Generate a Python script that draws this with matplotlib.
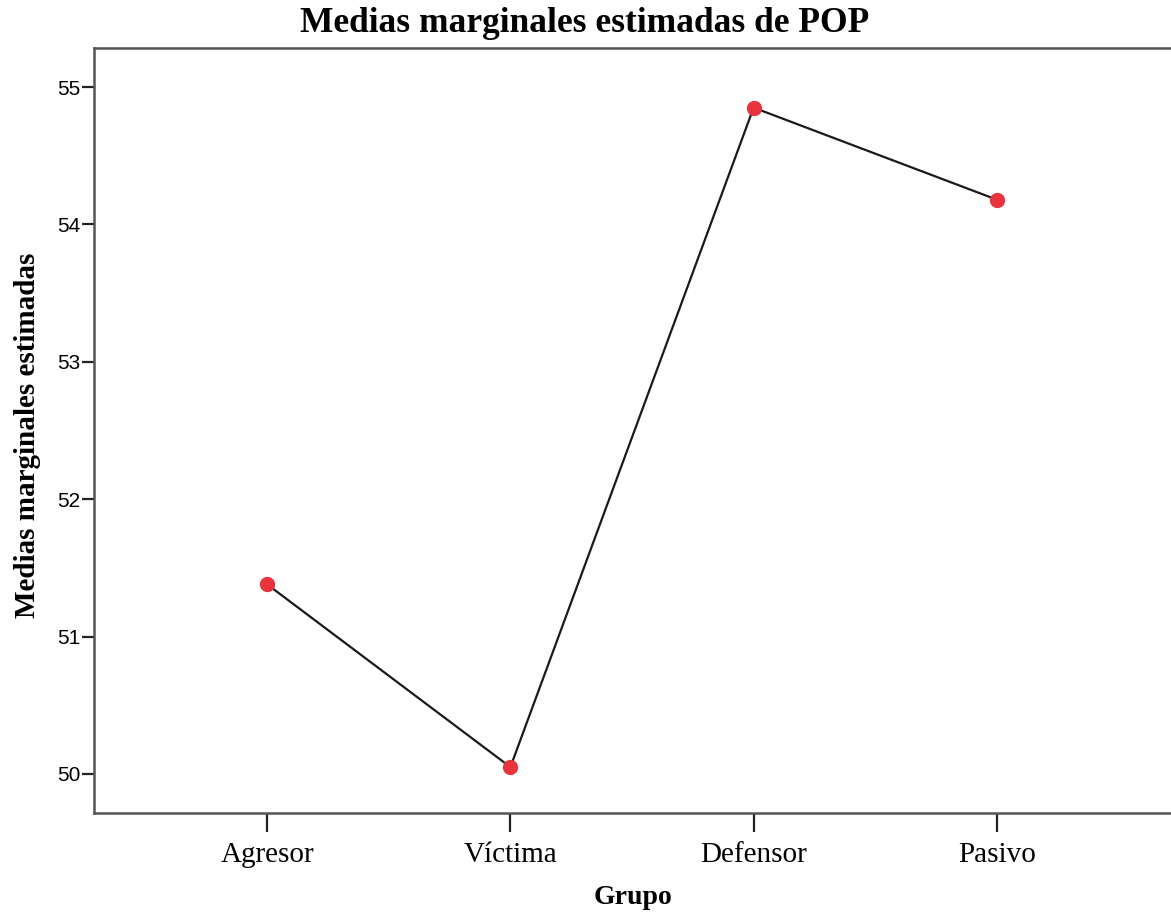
import matplotlib.pyplot as plt

grupos = ['Agresor', 'Víctima', 'Defensor', 'Pasivo']
medias = [51.38, 50.05, 54.85, 54.18]
yticks = [50, 51, 52, 53, 54, 55]

fig = plt.figure(figsize=(11.71, 9.14), dpi=100)
ax = fig.add_axes([94 / 1171, 1 - 813 / 914, 1.0 - 94 / 1171 + 0.01, (813 - 48) / 914])

x = list(range(len(grupos)))
ax.plot(x, medias, color='#1a1a1a', linewidth=1.6, zorder=2)
ax.plot(x, medias, linestyle='none', marker='o', markersize=10,
        markerfacecolor='#e8343c', markeredgecolor='#e8343c', zorder=3)

ax.set_xlim(-0.712, 3.716 + 0.01 * 1171 / 243)
ax.set_ylim(49.716, 55.284)
ax.set_xticks(x)
ax.set_xticklabels(grupos, fontfamily='Liberation Serif', fontsize=21)
ax.set_yticks(yticks)
ax.set_yticklabels([str(v) for v in yticks], fontfamily='Liberation Sans', fontsize=15)

ax.spines['right'].set_visible(False)
for s in ['left', 'bottom', 'top']:
    ax.spines[s].set_color('#555555')
    ax.spines[s].set_linewidth(1.8)
ax.tick_params(axis='y', direction='out', length=9, width=1.6, color='#222222', pad=1)
ax.tick_params(axis='x', direction='out', length=14, width=1.6, color='#222222', pad=7)

# titulo y etiquetas
fig.text(585 / 1171, 1 - 23 / 914, 'Medias marginales estimadas de POP', ha='center', va='center',
         fontfamily='Liberation Serif', fontweight='bold', fontsize=25.5)
fig.text(633 / 1171, 1 - 898 / 914, 'Grupo', ha='center', va='center',
         fontfamily='Liberation Serif', fontweight='bold', fontsize=20)
fig.text(28 / 1171, 1 - 435 / 914, 'Medias marginales estimadas', ha='center', va='center',
         rotation=90, fontfamily='Liberation Serif', fontweight='bold', fontsize=21)

fig.savefig('out.png', dpi=100, facecolor='white')
